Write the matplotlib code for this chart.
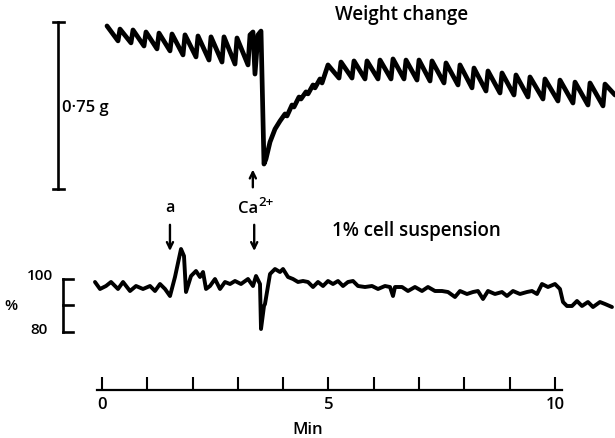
import numpy as np
import matplotlib
matplotlib.use('Agg')
import matplotlib.pyplot as plt

plt.rcParams['font.family'] = ['Open Sans', 'DejaVu Sans']
plt.rcParams['font.weight'] = 'semibold'

# ---- weight trace (min, g) ----
w_t = [0.110, 0.353, 0.397, 0.640, 0.684, 0.927, 0.971, 1.214, 1.258, 1.501,
       1.545, 1.788, 1.832, 2.075, 2.119, 2.362, 2.406, 2.649, 2.693, 2.936,
       2.980, 3.223, 3.267, 3.333, 3.377, 3.444, 3.510, 3.576,
       3.620, 3.709, 3.819, 3.929, 4.040, 4.084, 4.194, 4.238, 4.349, 4.393,
       4.503, 4.548, 4.658, 4.702, 4.812, 4.857,
       4.989, 5.232, 5.276, 5.519, 5.563, 5.806, 5.850, 6.093, 6.137, 6.380,
       6.424, 6.667, 6.711, 6.954, 6.998, 7.241, 7.285, 7.550, 7.594, 7.859,
       7.903, 8.168, 8.212, 8.477, 8.521, 8.786, 8.830, 9.095, 9.139, 9.404,
       9.448, 9.735, 9.779, 10.066, 10.110, 10.397, 10.442, 10.728, 10.773,
       11.060, 11.104, 11.325]
w_g = [0.732, 0.665, 0.718, 0.656, 0.714, 0.642, 0.705, 0.629, 0.700, 0.620,
       0.696, 0.602, 0.692, 0.593, 0.687, 0.579, 0.683, 0.570, 0.683, 0.561,
       0.678, 0.557, 0.692, 0.705, 0.516, 0.692, 0.709, 0.112,
       0.135, 0.211, 0.269, 0.305, 0.337, 0.328, 0.377, 0.368, 0.413, 0.404,
       0.436, 0.427, 0.467, 0.454, 0.494, 0.476,
       0.557, 0.498, 0.570, 0.498, 0.575, 0.494, 0.575, 0.494, 0.579, 0.494,
       0.584, 0.494, 0.579, 0.489, 0.579, 0.485, 0.575, 0.476, 0.566, 0.467,
       0.557, 0.454, 0.543, 0.440, 0.530, 0.431, 0.521, 0.422, 0.512, 0.413,
       0.503, 0.404, 0.494, 0.395, 0.489, 0.386, 0.480, 0.377, 0.476,
       0.373, 0.471, 0.422]

# ---- 1% cell suspension trace (min, %) ----
c_t = [-0.155, -0.044, 0.088, 0.199, 0.353, 0.464, 0.618, 0.751, 0.905, 1.060,
       1.170, 1.280, 1.391, 1.501, 1.611, 1.744, 1.810, 1.854, 1.965, 2.075,
       2.163, 2.230, 2.296, 2.384, 2.494, 2.605, 2.715, 2.826, 2.936, 3.068,
       3.223, 3.333, 3.400, 3.488, 3.510, 3.576, 3.598, 3.709, 3.819, 3.929,
       3.996, 4.106, 4.216, 4.327, 4.437, 4.547, 4.658, 4.768, 4.879, 4.989,
       5.099, 5.210, 5.320, 5.430, 5.541, 5.651, 5.806, 5.960, 6.093, 6.247,
       6.358, 6.424, 6.468, 6.623, 6.755, 6.909, 7.064, 7.196, 7.351, 7.506,
       7.638, 7.792, 7.903, 8.057, 8.190, 8.300, 8.411, 8.521, 8.675, 8.830,
       8.940, 9.073, 9.227, 9.382, 9.492, 9.603, 9.713, 9.845, 10.000, 10.110,
       10.177, 10.265, 10.375, 10.486, 10.596, 10.728, 10.839, 10.993, 11.104,
       11.258]
c_pct = [98.87, 96.23, 97.36, 98.87, 96.23, 98.87, 95.47, 97.36, 96.23, 97.36,
         95.47, 98.11, 96.23, 93.58, 100.75, 111.32, 108.68, 95.09, 101.13, 103.02,
         100.75, 102.64, 96.23, 97.36, 100.00, 96.23, 98.87, 98.11, 99.25, 98.11,
         100.00, 97.36, 101.13, 98.11, 81.13, 89.81, 90.57, 101.89, 103.77, 102.64,
         103.77, 100.75, 100.00, 98.87, 99.25, 98.87, 96.98, 98.87, 97.36, 99.25,
         98.11, 99.25, 97.36, 98.87, 99.25, 97.36, 96.98, 97.36, 96.23, 97.36,
         96.98, 93.58, 96.98, 96.98, 95.47, 96.98, 95.47, 96.98, 95.47, 95.47,
         95.09, 93.21, 95.47, 94.34, 95.09, 95.47, 92.45, 95.47, 94.34, 95.09,
         93.58, 95.47, 94.34, 95.09, 95.47, 94.34, 98.11, 96.98, 98.11, 96.23,
         91.32, 89.81, 89.81, 91.70, 89.81, 91.32, 89.43, 91.32, 90.57, 89.43]

minutes = list(range(0, 11))
minute_labels = ['0', '', '', '', '', '5', '', '', '', '', '10']
t_a = 1.50      # addition "a"
t_ca = 3.36     # Ca2+ addition
scale_g = 0.75
pct_marks = [100, 90, 80]

xlim = (-2.252, 11.325)
fig = plt.figure(figsize=(6.15, 4.39), dpi=100)

ax_w = fig.add_axes([0, 0, 1, 1])
ax_c = fig.add_axes([0, 0, 1, 1])
for ax in (ax_w, ax_c):
    ax.set_xlim(*xlim)
    ax.axis('off')
    ax.patch.set_alpha(0)
ax_w.set_ylim(-1.118, 0.853)
ax_c.set_ylim(40.0, 205.66)

arrow = dict(arrowstyle='->,head_length=0.45,head_width=0.22', lw=1.7, color='k')

# weight trace
ax_w.plot(w_t, w_g, color='k', lw=3.4, solid_joinstyle='round',
          solid_capstyle='round')
# 0.75 g scale bar
ax_w.plot([-0.97, -0.97], [0, scale_g], color='k', lw=1.9)
ax_w.plot([-1.09, -0.85], [0, 0], color='k', lw=1.9)
ax_w.plot([-1.09, -0.85], [scale_g, scale_g], color='k', lw=1.9)
ax_w.text(-0.88, 0.37, '0\u00b775 g', fontsize=12, ha='left', va='center')
ax_w.text(6.62, 0.787, 'Weight change', fontsize=13.5, ha='center', va='center')
ax_w.annotate('', xy=(t_ca - 0.03, 0.10), xytext=(t_ca - 0.03, -0.005),
              arrowprops=arrow)

# cell suspension trace
ax_c.plot(c_t, c_pct, color='k', lw=2.8, solid_joinstyle='round',
          solid_capstyle='round')
ax_c.plot([-0.86, -0.86], [pct_marks[-1], pct_marks[0]], color='k', lw=1.9)
for p in pct_marks:
    ax_c.plot([-0.86, -0.65], [p, p], color='k', lw=1.9)
ax_c.text(-1.08, 101.5, '100', fontsize=11, ha='right', va='center')
ax_c.text(-1.2, 81.0, '80', fontsize=11, ha='right', va='center')
ax_c.text(-2.01, 90.0, '%', fontsize=11, ha='center', va='center')
ax_c.text(6.95, 118.5, '1% cell suspension', fontsize=13.5, ha='center', va='center')
ax_c.text(t_a, 127.0, 'a', fontsize=11.5, ha='center', va='center')
ax_c.text(3.44, 126.8, 'Ca', fontsize=12, ha='right', va='center')
ax_c.text(3.45, 129.3, '2+', fontsize=9.5, ha='left', va='center')
for t0 in (t_a, t_ca):
    ax_c.annotate('', xy=(t0, 109.5), xytext=(t0, 121.5), arrowprops=arrow)

# time axis
ax_t = fig.add_axes([0, 48 / 439, 1, 0.1])
ax_t.set_xlim(*xlim)
ax_t.patch.set_alpha(0)
for s in ('top', 'left', 'right'):
    ax_t.spines[s].set_visible(False)
ax_t.spines['bottom'].set_bounds(-0.11, 10.15)
ax_t.spines['bottom'].set_linewidth(1.6)
ax_t.set_yticks([])
ax_t.set_xticks(minutes)
ax_t.set_xticklabels(minute_labels, fontsize=12, fontweight='semibold')
ax_t.tick_params(axis='x', direction='in', length=9.4, width=1.5, pad=4)
ax_t.set_xlabel('Min', fontsize=12, fontweight='semibold', labelpad=7)

fig.savefig('out.png', dpi=100)
